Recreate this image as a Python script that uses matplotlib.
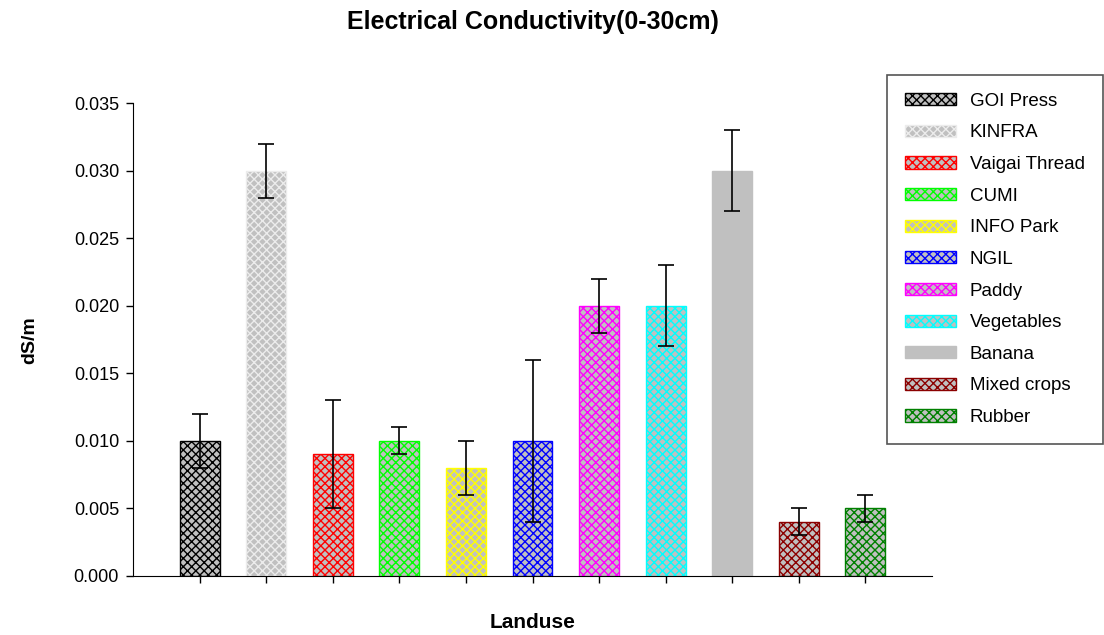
import matplotlib
matplotlib.use("Agg")
import matplotlib.pyplot as plt
import matplotlib.patches as mpatches

plt.rcParams['font.family'] = ['Liberation Sans', 'DejaVu Sans']
plt.rcParams['hatch.linewidth'] = 1.0

landuse = ["GOI Press", "KINFRA", "Vaigai Thread", "CUMI", "INFO Park", "NGIL",
           "Paddy", "Vegetables", "Banana", "Mixed crops", "Rubber"]
ec_mean = [0.010, 0.030, 0.009, 0.010, 0.008, 0.010, 0.020, 0.020, 0.030, 0.004, 0.005]
ec_err = [0.002, 0.002, 0.004, 0.001, 0.002, 0.006, 0.002, 0.003, 0.003, 0.001, 0.001]
edge_colors = ["#000000", "#ececec", "#ff0000", "#00ff00", "#ffff00", "#0000ff",
               "#ff00ff", "#00ffff", "#c0c0c0", "#8b0000", "#008000"]
hatches = ["xxxx", "xxxx", "xxxx", "xxxx", "xxxx", "xxxx", "xxxx", "xxxx", "", "xxxx", "xxxx"]

fig = plt.figure(figsize=(11.04, 6.35), dpi=100)
ax = fig.add_axes([133 / 1104, 59 / 635, 799 / 1104, 473 / 635])

x = list(range(1, len(landuse) + 1))
bars = ax.bar(x, ec_mean, width=0.6, color="#c0c0c0", linewidth=1.0,
              edgecolor=edge_colors, zorder=2)
for b, h in zip(bars, hatches):
    b.set_hatch(h)
ax.errorbar(x, ec_mean, yerr=ec_err, fmt="none", ecolor="black",
            elinewidth=1.2, capsize=6, capthick=1.2, zorder=3)

ax.set_xlim(0, 12)
ax.set_ylim(0, 0.035)
ax.set_yticks([0, 0.005, 0.010, 0.015, 0.020, 0.025, 0.030, 0.035])
ax.set_yticklabels(["0.000", "0.005", "0.010", "0.015", "0.020", "0.025", "0.030", "0.035"])
ax.set_xticks(x)
ax.set_xticklabels([])
ax.tick_params(axis="both", direction="out", length=5, width=1, labelsize=13, pad=5)
ax.spines["top"].set_visible(False)
ax.spines["right"].set_visible(False)

fig.text(533 / 1104, 1 - 22 / 635, "Electrical Conductivity(0-30cm)", fontsize=18,
         fontweight="bold", ha="center", va="center")
fig.text(533 / 1104, 1 - 623 / 635, "Landuse", fontsize=15, fontweight="bold",
         ha="center", va="center")
fig.text(30 / 1104, 1 - 340 / 635, "dS/m", fontsize=14, fontweight="bold",
         ha="center", va="center", rotation=90)

handles = [mpatches.Patch(facecolor="#c0c0c0", edgecolor=c, hatch=h, label=l)
           for l, c, h in zip(landuse, edge_colors, hatches)]
leg = fig.legend(handles=handles, loc="upper left",
                 bbox_to_anchor=(887 / 1104, 1 - 75 / 635), fontsize=13.5,
                 frameon=True, fancybox=False, framealpha=1, edgecolor="#555555",
                 handlelength=2.75, handleheight=0.62, handletextpad=0.72,
                 labelspacing=0.78, borderpad=0.95, borderaxespad=0)
leg.get_frame().set_linewidth(1.2)

fig.savefig("out.png", dpi=100)
